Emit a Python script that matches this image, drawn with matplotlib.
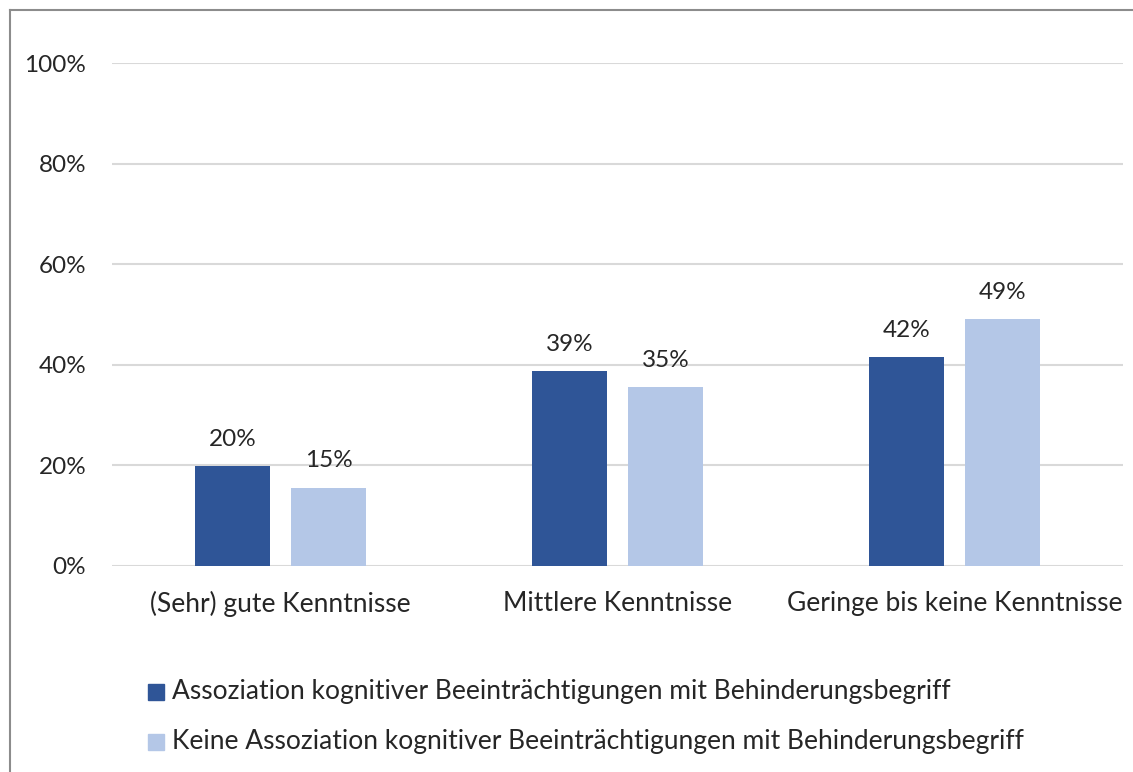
import matplotlib
matplotlib.use("Agg")
import matplotlib.pyplot as plt
import numpy as np
from matplotlib.lines import Line2D
from matplotlib.patches import Rectangle

categories = ["(Sehr) gute Kenntnisse", "Mittlere Kenntnisse", "Geringe bis keine Kenntnisse"]
series_names = ["Assoziation kognitiver Beeinträchtigungen mit Behinderungsbegriff",
                "Keine Assoziation kognitiver Beeinträchtigungen mit Behinderungsbegriff"]
assoz = [20, 39, 42]
keine = [15, 35, 49]
# actual bar heights (slightly differ from rounded labels)
assoz_h = [19.9, 38.8, 41.5]
keine_h = [15.6, 35.6, 49.1]
colors = ["#2F5597", "#B4C7E7"]
yticks = [0, 20, 40, 60, 80, 100]

plt.rcParams['font.family'] = ['Lato', 'DejaVu Sans']
W, H = 1133, 772
fig = plt.figure(figsize=(W/100, H/100), dpi=100)
ax = fig.add_axes([112/W, 1-566/H, (1123-112)/W, (566-63)/H])

TXT = "#262626"
x = np.arange(len(categories))
bw = 0.2225
off = 0.1425
b1 = ax.bar(x - off, assoz_h, bw, color=colors[0], zorder=3)
b2 = ax.bar(x + off, keine_h, bw, color=colors[1], zorder=3)
for bars, labs in ((b1, assoz), (b2, keine)):
    for r, l in zip(bars, labs):
        ax.text(r.get_x() + r.get_width()/2, r.get_height() + 3.2, f"{l}%",
                ha="center", va="bottom", fontsize=17.5, color=TXT)

ax.set_xlim(-0.5, 2.5)
ax.set_ylim(0, 100)
ax.set_yticks(yticks)
ax.set_yticklabels([f"{t}%" for t in yticks], fontsize=17.5, color=TXT)
ax.set_xticks(x)
ax.set_xticklabels(categories, fontsize=19, color=TXT)
ax.tick_params(axis="both", length=0)
ax.tick_params(axis="y", pad=18.5)
ax.tick_params(axis="x", pad=18)
for s in ax.spines.values():
    s.set_visible(False)
ax.yaxis.grid(True, color="#D9D9D9", linewidth=1.5, zorder=0)
ax.set_axisbelow(True)

# legend entries
for i, (name, c) in enumerate(zip(series_names, colors)):
    yc = 1 - (692 + 50*i)/H
    fig.patches.append(Rectangle((148/W, yc - 8/H), 16/W, 16/H, color=c,
                                 transform=fig.transFigure, figure=fig))
    fig.text(172/W, yc, name, fontsize=19, color=TXT, va="center", ha="left")

# outer frame (left and top)
fig.add_artist(Line2D([9.5/W, 9.5/W], [0, 1 - 9.5/H], color="#8C8C8C", lw=1.5, transform=fig.transFigure))
fig.add_artist(Line2D([9.5/W, 1], [1 - 9.5/H, 1 - 9.5/H], color="#8C8C8C", lw=1.5, transform=fig.transFigure))

fig.savefig("out.png", dpi=100)
